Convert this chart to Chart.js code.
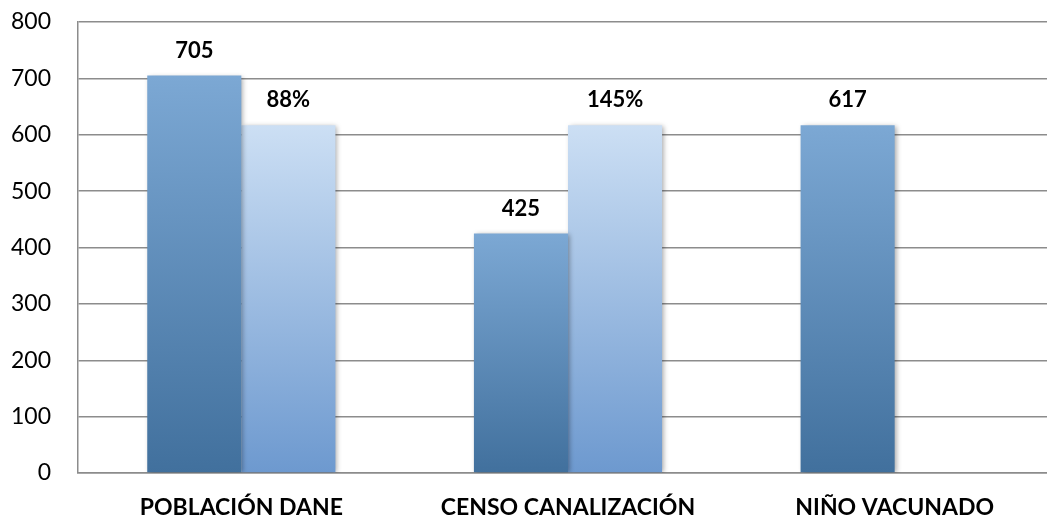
<!DOCTYPE html>
<html>
<head>
<meta charset="utf-8">
<script src="https://cdn.jsdelivr.net/npm/chart.js@4.4.1/dist/chart.umd.min.js"></script>
<style>
  html, body { margin: 0; padding: 0; background: #ffffff; overflow: hidden; }
  #wrap { position: relative; width: 1058px; height: 521px; }
</style>
</head>
<body>
<div id="wrap"><canvas id="c"></canvas></div>
<script>
const categories = ['POBLACIÓN DANE', 'CENSO CANALIZACIÓN', 'NIÑO VACUNADO'];
const seriesMain = [705, 425, 617];
const seriesSecond = [617, 617, null];
const labelsMain = ['705', '425', '617'];
const labelsSecond = ['88%', '145%', null];
const yTicks = [0, 100, 200, 300, 400, 500, 600, 700, 800];

function gradientFill(topColor, bottomColor) {
  return (ctx) => {
    const chart = ctx.chart;
    const area = chart.chartArea;
    if (!area || ctx.type !== 'data' || ctx.raw == null) return topColor;
    const ys = chart.scales.y;
    const yTop = ys.getPixelForValue(ctx.raw);
    const yBot = ys.getPixelForValue(0);
    const g = chart.ctx.createLinearGradient(0, yTop, 0, yBot);
    g.addColorStop(0, topColor);
    g.addColorStop(1, bottomColor);
    return g;
  };
}

const shadowPlugin = {
  id: 'barShadow',
  beforeDatasetDraw(chart) {
    const c = chart.ctx;
    c.save();
    c.shadowColor = 'rgba(0,0,0,0.35)';
    c.shadowBlur = 5;
    c.shadowOffsetX = 2;
    c.shadowOffsetY = 1;
  },
  afterDatasetDraw(chart) {
    chart.ctx.restore();
  }
};

const labelPlugin = {
  id: 'valueLabels',
  afterDatasetsDraw(chart) {
    const c = chart.ctx;
    const texts = [labelsMain, labelsSecond];
    c.save();
    c.font = 'bold 22px Lato';
    c.fillStyle = '#000000';
    c.textAlign = 'center';
    c.textBaseline = 'middle';
    chart.data.datasets.forEach((ds, di) => {
      const meta = chart.getDatasetMeta(di);
      meta.data.forEach((el, i) => {
        const t = texts[di][i];
        if (t == null || ds.data[i] == null) return;
        c.fillText(t, el.x, el.y - 25);
      });
    });
    c.restore();
  }
};

new Chart(document.getElementById('c'), {
  type: 'bar',
  data: {
    labels: categories,
    datasets: [
      {
        data: seriesMain,
        backgroundColor: gradientFill('#7CA8D4', '#41709D'),
        borderWidth: 0,
        categoryPercentage: 0.576,
        barPercentage: 1.0
      },
      {
        data: seriesSecond,
        backgroundColor: gradientFill('#CCDFF4', '#6D99CF'),
        borderWidth: 0,
        categoryPercentage: 0.576,
        barPercentage: 1.0
      }
    ]
  },
  options: {
    responsive: true,
    maintainAspectRatio: false,
    animation: false,
    layout: { padding: { top: 22, right: 0, left: 0, bottom: 0 } },
    plugins: {
      legend: { display: false },
      tooltip: { enabled: false }
    },
    scales: {
      x: {
        grid: { display: false, drawTicks: false },
        border: { display: true, color: '#8C8C8C', width: 1.5 },
        ticks: {
          color: '#000000',
          font: { family: 'Lato', size: 23, weight: 'bold' },
          padding: 21,
          maxRotation: 0,
          autoSkip: false
        },
        afterFit(scale) { scale.height = 48; scale.paddingLeft = 0; scale.paddingRight = 0; }
      },
      y: {
        min: 0,
        max: 800,
        afterBuildTicks(scale) { scale.ticks = yTicks.map(v => ({ value: v })); },
        grid: { color: '#8C8C8C', lineWidth: 1.5, drawTicks: false },
        border: { display: true, color: '#8C8C8C', width: 1.5 },
        ticks: {
          color: '#000000',
          font: { family: 'Lato', size: 23 },
          padding: 27
        },
        afterFit(scale) { scale.width = 78; scale.paddingTop = 0; scale.paddingBottom = 0; }
      }
    }
  },
  plugins: [shadowPlugin, labelPlugin]
});
</script>
</body>
</html>
